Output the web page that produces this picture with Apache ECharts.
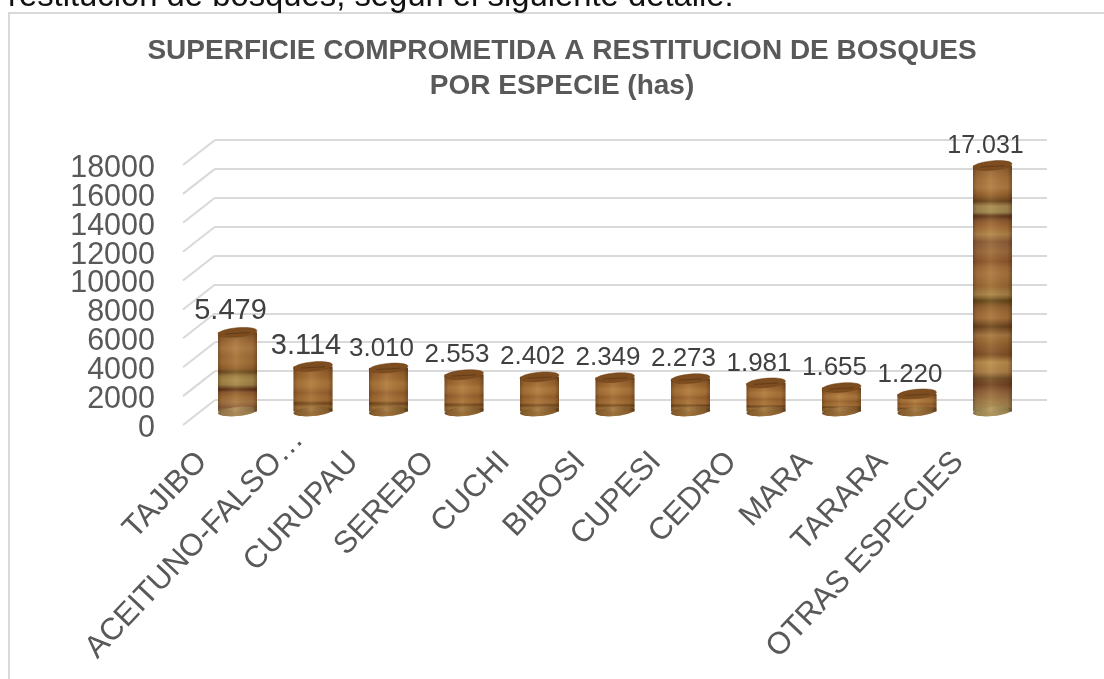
<!DOCTYPE html>
<html>
<head>
<meta charset="utf-8">
<style>html,body{margin:0;padding:0;background:#fff}#c{width:1104px;height:679px}</style>
<script src="https://cdn.jsdelivr.net/npm/echarts@6/dist/echarts.min.js"></script>
</head>
<body>
<div id="c"></div>
<script>
const categories = ['TAJIBO','ACEITUNO-FALSO…','CURUPAU','SEREBO','CUCHI','BIBOSI','CUPESI','CEDRO','MARA','TARARA','OTRAS ESPECIES'];
const surfaceHas = [5479,3114,3010,2553,2402,2349,2273,1981,1655,1220,17031];
const yTicks = [0,2000,4000,6000,8000,10000,12000,14000,16000,18000];
const titleText = 'SUPERFICIE COMPROMETIDA A RESTITUCION DE BOSQUES\nPOR ESPECIE (has)';
const pageText = 'restitución de bosques, según el siguiente detalle:';

// wood grain colours, top to bottom
const grainTall = [[0,'#80522a'],[.03,'#9c6834'],[.06,'#a8743c'],[.09,'#ad7a42'],[.12,'#94602c'],[.145,'#6a451f'],[.165,'#a58a50'],[.19,'#a08650'],[.205,'#5e361b'],[.225,'#8c5a30'],[.25,'#a06a34'],[.28,'#b0844a'],[.31,'#8c5c38'],[.35,'#9a6a3c'],[.39,'#8c562c'],[.415,'#a06c38'],[.44,'#a8743e'],[.49,'#996632'],[.525,'#a88448'],[.55,'#644518'],[.575,'#90602e'],[.6,'#a06c36'],[.62,'#a4703a'],[.655,'#68411c'],[.69,'#a47640'],[.72,'#96642f'],[.74,'#8a5a2e'],[.77,'#7e4f25'],[.80,'#b88c4c'],[.84,'#ac7e46'],[.865,'#6f4e27'],[.89,'#704022'],[.92,'#8e6038'],[.96,'#a07c48'],[1,'#a48e58']];
const grainMid = [[0,'#80522a'],[.1,'#9c6834'],[.2,'#ac7a42'],[.3,'#9f6c37'],[.38,'#a47038'],[.46,'#90602c'],[.50,'#6e4c22'],[.55,'#9c7c42'],[.6,'#a88a4c'],[.66,'#a08448'],[.72,'#5e3218'],[.76,'#8c5a30'],[.82,'#a06c36'],[.88,'#a47644'],[.95,'#8c5c3a'],[1,'#a08050']];
const grainShort = [[0,'#7a4c22'],[.12,'#96602c'],[.25,'#a06a32'],[.35,'#ad783c'],[.47,'#a87238'],[.58,'#965f2c'],[.66,'#a06a32'],[.75,'#a46e36'],[.82,'#74491e'],[.9,'#a07238'],[1,'#8f6430']];

const depthX = 32, depthY = 25;      // side-wall depth of the 3-D box
const barW = 39, capRy = 4.6, tilt = 0.09;

function grainFor(v){ return v > 10000 ? grainTall : v > 4000 ? grainMid : grainShort; }
function labelSize(v){ return v > 10000 ? 25 : v > 3100 ? 29 : 26; }
function fmt(v){ return String(v).replace(/\B(?=(\d{3})+$)/g,'.'); }

function renderWalls(params, api){
  const p = api.coord([0, api.value(1)]);
  const x = params.coordSys.x;
  return {type:'line', shape:{x1:x, y1:p[1], x2:x+depthX, y2:p[1]-depthY},
          style:{stroke:'#d9d9d9', lineWidth:2}, silent:true};
}
function renderCaps(params, api){
  const top = api.coord([api.value(0), api.value(1)]);
  const base = api.coord([api.value(0), 0]);
  const shade = {type:'linear',x:0,y:0,x2:1,y2:0,colorStops:[
    {offset:0,color:'rgba(40,20,5,.3)'},{offset:.1,color:'rgba(40,20,5,.08)'},
    {offset:.45,color:'rgba(255,220,160,.12)'},{offset:.88,color:'rgba(40,20,5,.08)'},
    {offset:1,color:'rgba(40,20,5,.34)'}]};
  const grain = grainFor(api.value(1));
  const capShape = {cx:0,cy:0,rx:barW/2,ry:capRy};
  return {type:'group', silent:true, children:[
    {type:'ellipse', x:top[0], y:base[1], rotation:tilt, shape:capShape, style:{fill:grain[grain.length-1][1]}},
    {type:'ellipse', x:top[0], y:base[1], rotation:tilt, shape:capShape, style:{fill:shade}},
    {type:'rect', shape:{x:top[0]-barW/2, y:top[1], width:barW, height:base[1]-top[1]}, style:{fill:shade}},
    {type:'ellipse', x:top[0], y:top[1], rotation:tilt, shape:capShape,
     style:{fill:'#7d4c1f', stroke:'#6e441c', lineWidth:.5}},
    {type:'line', shape:{x1:top[0]-12, y1:top[1]+1.5, x2:top[0]+12, y2:top[1]+.2},
     style:{stroke:'#3d2610', lineWidth:.8, opacity:.5}}
  ]};
}

const hiddenLabel = {show:false};
const chart = echarts.init(document.getElementById('c'), null, {renderer:'canvas'});
chart.setOption({
  animation:false,
  backgroundColor:'#ffffff',
  textStyle:{fontFamily:'"Liberation Sans", Arial, sans-serif'},
  title:{
    text:titleText, left:557, top:29, textAlign:'center',
    textStyle:{fontFamily:'"Liberation Sans"', fontSize:28, fontWeight:'bold', color:'#595959', lineHeight:35}
  },
  graphic:[
    {type:'polyline', shape:{points:[[9,679],[9,13],[1104,13]]}, style:{fill:'none',stroke:'#d9d9d9',lineWidth:2}, silent:true},
    {type:'text', x:8, y:-19.5, style:{text:pageText, fontFamily:'"Liberation Sans"', fontSize:32.8, fill:'#111', textVerticalAlign:'top'}, silent:true}
  ],
  grid:[
    {left:183, top:165, width:832, height:260},   // front edge: side wall
    {left:215, top:140, width:832, height:260},   // back wall: gridlines
    {left:199.75, top:151.5, width:830.5, height:260},  // mid depth: cylinders
    {left:185, top:149, width:832, height:260},   // category labels
    {left:183, top:168.5, width:832, height:260}  // value labels
  ],
  xAxis:[0,1,2,3,4].map(i => ({
    gridIndex:i, type:'category',
    data: i===3 ? categories.map(c => c.endsWith('…') ? {value:c, textStyle:{padding:[0,0,0,0]}} : c) : categories,
    axisLine:{show:false}, axisTick:{show:false},
    axisLabel: i===3 ? {show:true, rotate:46.5, interval:0, margin:26, fontSize:31, color:'#595959', fontFamily:'"Liberation Sans"', padding:[0,30,0,0]} : hiddenLabel,
    splitLine:{show:false}
  })),
  yAxis:[0,1,2,3,4].map(i => i===4 ? ({
    gridIndex:i, type:'category', boundaryGap:false, data:yTicks.map(String),
    axisLine:{show:false}, axisTick:{show:false}, splitLine:{show:false},
    axisLabel:{show:true, interval:0, margin:28, fontSize:30.5, color:'#595959', fontFamily:'"Liberation Sans"'}
  }) : ({
    gridIndex:i, type:'value', min:0, max:18000, interval:2000,
    axisLine:{show:false}, axisTick:{show:false}, axisLabel:hiddenLabel,
    splitLine: i===1 ? {show:true, lineStyle:{color:'#d9d9d9', width:2}} : {show:false}
  })),
  series:[
    {type:'custom', xAxisIndex:0, yAxisIndex:0, renderItem:renderWalls, z:1, clip:false,
     encode:{x:0,y:1}, data:yTicks.map(v=>[0,v]), tooltip:{show:false}},
    {type:'bar', name:'Superficie (has)', xAxisIndex:2, yAxisIndex:2, barWidth:barW, z:3,
     data:surfaceHas.map(v=>({value:v, label:{fontSize:labelSize(v)}})),
     itemStyle:{color:p=>({type:'linear',x:0,y:0,x2:0,y2:1,
       colorStops:grainFor(p.value).map(s=>({offset:s[0],color:s[1]}))})},
     label:{show:true, position:'top', distance:6.5, offset:[-7,0], color:'#404040',
       fontFamily:'"Liberation Sans"', formatter:p=>fmt(p.value)}},
    {type:'custom', xAxisIndex:2, yAxisIndex:2, renderItem:renderCaps, z:4, clip:false,
     encode:{x:0,y:1}, data:surfaceHas.map((v,i)=>[i,v]), tooltip:{show:false}}
  ]
});
</script>
</body>
</html>
